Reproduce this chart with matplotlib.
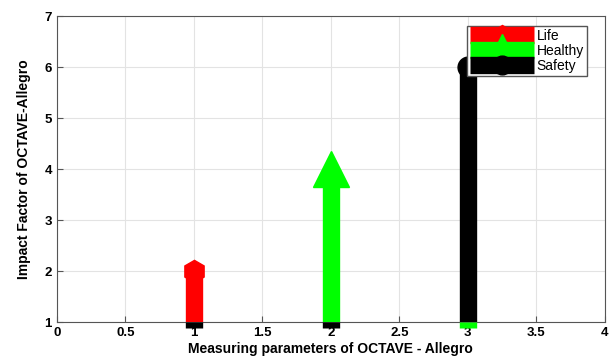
import matplotlib.pyplot as plt

labels = ['Life', 'Healthy', 'Safety']
xpos = [1, 2, 3]
values = [2, 4, 6]
colors = ['#ff0000', '#00ff00', '#000000']
markers = ['h', '^', 'o']
msizes = [16, 26, 15]
# colour of the little block that shows under the x axis at each stem
under = ['#000000', '#000000', '#00ff00']

plt.rcParams['font.family'] = ['Liberation Sans', 'DejaVu Sans']
plt.rcParams['font.weight'] = 'bold'

fig = plt.figure(figsize=(6.11, 3.59), dpi=100)
ax = fig.add_axes([0.093, 0.103, 0.897, 0.852])

for x, v, c, m, s, lab in zip(xpos, values, colors, markers, msizes, labels):
    ax.plot([x, x], [0, v], color=c, lw=12.5, solid_capstyle='butt',
            marker=m, markevery=[1], ms=s, mec=c, mfc=c, label=lab, zorder=3)

for x, c in zip(xpos, under):
    ax.plot([x, x], [1, 0.88], color=c, lw=12.5, solid_capstyle='butt',
            clip_on=False, zorder=4)

ax.set_xlim(0, 4)
ax.set_ylim(1, 7)
ax.set_xticks([0, 0.5, 1, 1.5, 2, 2.5, 3, 3.5, 4])
ax.set_xticklabels(['0', '0.5', '1', '1.5', '2', '2.5', '3', '3.5', '4'])
ax.set_yticks(range(1, 8))
ax.grid(True, color='#e3e3e3', lw=0.8)
ax.set_axisbelow(True)
ax.tick_params(labelsize=9.5, direction='in', length=4, color='#555555')
for sp in ax.spines.values():
    sp.set_color('#555555')

ax.set_xlabel('Measuring parameters of OCTAVE - Allegro', fontsize=10,
              fontweight='bold', labelpad=2)
ax.set_ylabel('Impact Factor of OCTAVE-Allegro', fontsize=10,
              fontweight='bold', labelpad=10)

leg = ax.legend(loc='upper right', bbox_to_anchor=(0.967, 0.967), fontsize=10,
                handlelength=4.6, borderpad=0.2, labelspacing=0.08,
                fancybox=False, edgecolor='#555555', framealpha=1,
                handletextpad=0.2, borderaxespad=0, markerscale=0.9)
for t in leg.get_texts():
    t.set_fontweight('normal')

fig.savefig('out.png', dpi=100)
